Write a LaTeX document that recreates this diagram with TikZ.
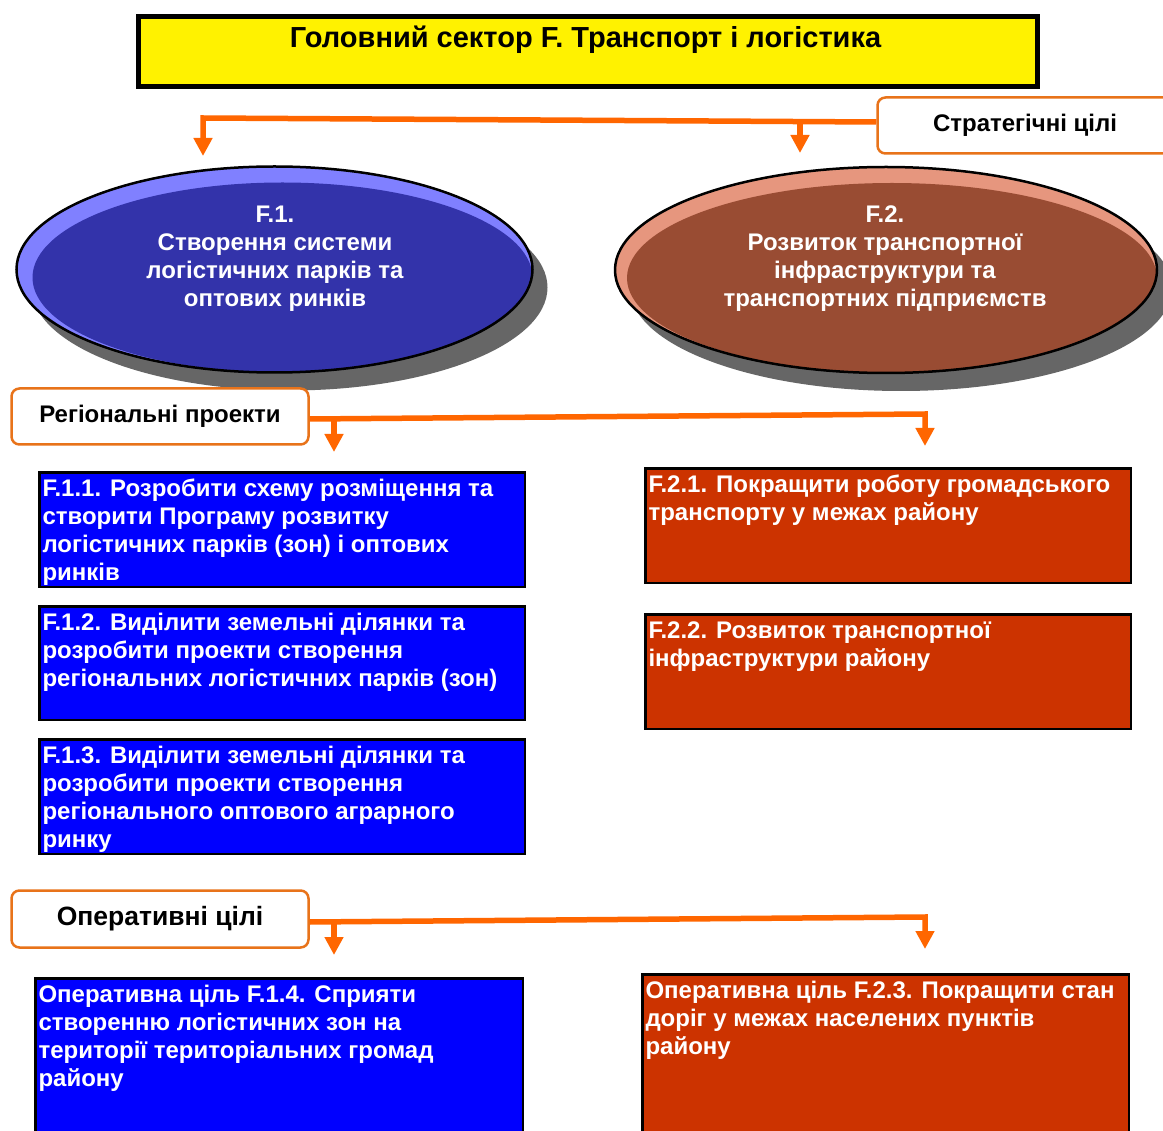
\documentclass[tikz,border=0pt]{standalone}
\usepackage{fontspec}
\setmainfont{Liberation Sans}
\usetikzlibrary{arrows.meta,shapes.geometric}
\definecolor{orng}{HTML}{FF6600}
\definecolor{lblbord}{HTML}{E8731A}
\definecolor{bluebx}{HTML}{0000FF}
\definecolor{redbx}{HTML}{CC3300}
\definecolor{eblue}{HTML}{3333AA}
\definecolor{eblueL}{HTML}{8080FF}
\definecolor{ebrown}{HTML}{994C33}
\definecolor{ebrownL}{HTML}{E6967E}
\definecolor{shad}{HTML}{666666}
\newcommand{\bxtext}[3]{\parbox[t][#1][t]{#2}{\raggedright\strut #3}}
\begin{document}
\begin{tikzpicture}[x=1pt,y=-1pt,
  titlebox/.style={draw=black,line width=5pt,fill=yellow,anchor=north west,minimum width=899pt,minimum height=70pt,inner sep=0pt},
  titletxt/.style={anchor=base,font=\fontsize{29}{32}\selectfont\bfseries},
  lbl/.style={draw=lblbord,line width=2.5pt,fill=white,rounded corners=8pt,minimum width=297pt,minimum height=56pt,anchor=north west,font=\fontsize{24}{28}\selectfont\bfseries,inner sep=0pt},
  bx/.style={draw=black,line width=2.5pt,anchor=north west,inner xsep=3pt,inner ysep=4pt,text=white,font=\fontsize{24}{28}\selectfont\bfseries},
  bbx/.style={bx,fill=bluebx},
  rbx/.style={bx,fill=redbx},
  arr/.style={draw=orng,line width=5.5pt,-{Triangle[length=18pt,width=18pt]}},
  eshape/.style={ellipse,draw=black,line width=2.5pt,inner sep=0pt},
  etxt/.style={text=white,align=center,inner sep=0pt,font=\fontsize{24}{28}\selectfont\bfseries},
]
\useasboundingbox (0,0) rectangle (1163,1131);
\fill[white] (0,0) rectangle (1163,1131);

% title
\node[titlebox] (title) at (136,14.5) {};
\node[titletxt] (titlet) at (585.5,48) {Головний сектор F. Транспорт і логістика};

% strategic label
\node[lbl] (strat) at (876.25,96.25) [minimum width=300pt] {\hspace*{0pt}};
\node[anchor=base,font=\fontsize{24}{28}\selectfont\bfseries] (stratt) at (1025,132) {Стратегічні цілі};

% ellipse F.1
\fill[shad] (289.5,287.5) ellipse [x radius=258, y radius=103];
\fill[eblueL] (274.5,269.5) ellipse [x radius=258, y radius=103];
\begin{scope}
\clip (274.5,269.5) ellipse [x radius=258, y radius=103];
\fill[eblue] (282.5,277.5) ellipse [x radius=250, y radius=95];
\end{scope}
\node[eshape,minimum width=516pt,minimum height=206pt] (e1) at (274.5,269.5) {};
\node[etxt] (e1t) at (275,259) {F.1.\\Створення системи\\логістичних парків та\\оптових ринків};

% ellipse F.2
\fill[shad] (901,288) ellipse [x radius=271, y radius=103];
\fill[ebrownL] (886,270) ellipse [x radius=271, y radius=103];
\begin{scope}
\clip (886,270) ellipse [x radius=271, y radius=103];
\fill[ebrown] (892,278) ellipse [x radius=265, y radius=95];
\end{scope}
\node[eshape,minimum width=542pt,minimum height=206pt] (e2) at (886,270) {};
\node[etxt] (e2t) at (885,259) {F.2.\\Розвиток транспортної\\інфраструктури та\\транспортних підприємств};

% strategic arrows
\coordinate (s1) at (203,118);
\coordinate (a1) at (203,156);
\coordinate (s2) at (800,121.5);
\coordinate (a2) at (800,153);
\draw[arr] (strat.west |- 0,122) -- (s1) -- (a1);
\draw[arr] (s2) -- (a2);

% regional label
\node[lbl] (reg) at (10.25,387.25) {Регіональні проекти};
\coordinate (r1) at (925,414);
\coordinate (b1) at (925,446);
\coordinate (r2) at (334,417.5);
\coordinate (b2) at (334,452);
\draw[arr] ([yshift=-2.5pt]reg.east) -- (r1) -- (b1);
\draw[arr] (r2) -- (b2);

% regional projects
\node[bbx] (f11) at (38.25,471.25) {\bxtext{106.5pt}{479.5pt}{F.1.1. Розробити схему розміщення та\\створити Програму розвитку\\логістичних парків (зон) і оптових\\ринків}};
\node[bbx] (f12) at (38.25,605.25) {\bxtext{105.5pt}{479.5pt}{F.1.2. Виділити земельні ділянки та\\розробити проекти створення\\регіональних логістичних парків (зон)}};
\node[bbx] (f13) at (38.25,738.25) {\bxtext{106.5pt}{479.5pt}{F.1.3. Виділити земельні ділянки та\\розробити проекти створення\\регіонального оптового аграрного\\ринку}};
\node[rbx] (f21) at (644.25,467.25) {\bxtext{106.5pt}{479.5pt}{F.2.1. Покращити роботу громадського\\транспорту у межах району}};
\node[rbx] (f22) at (644.25,613.25) {\bxtext{106.5pt}{479.5pt}{F.2.2. Розвиток транспортної\\інфраструктури району}};

% operational label
\node[lbl] (op) at (10.25,889.25) [minimum height=57pt,font=\fontsize{26.5}{30}\selectfont\bfseries] {Оперативні цілі};
\coordinate (o1) at (925,917);
\coordinate (c1) at (925,949);
\coordinate (o2) at (334,921);
\coordinate (c2) at (334,955);
\draw[arr] ([yshift=-3pt]op.east) -- (o1) -- (c1);
\draw[arr] (o2) -- (c2);

% operational goals
\node[bbx] (f14) at (34.25,977.25) {\bxtext{170pt}{481.5pt}{Оперативна ціль F.1.4. Сприяти\\створенню логістичних зон на\\території територіальних громад\\району}};
\node[rbx] (f23) at (641.25,973.25) {\bxtext{170pt}{480.5pt}{Оперативна ціль F.2.3. Покращити стан\\доріг у межах населених пунктів\\району}};
\end{tikzpicture}
\end{document}
